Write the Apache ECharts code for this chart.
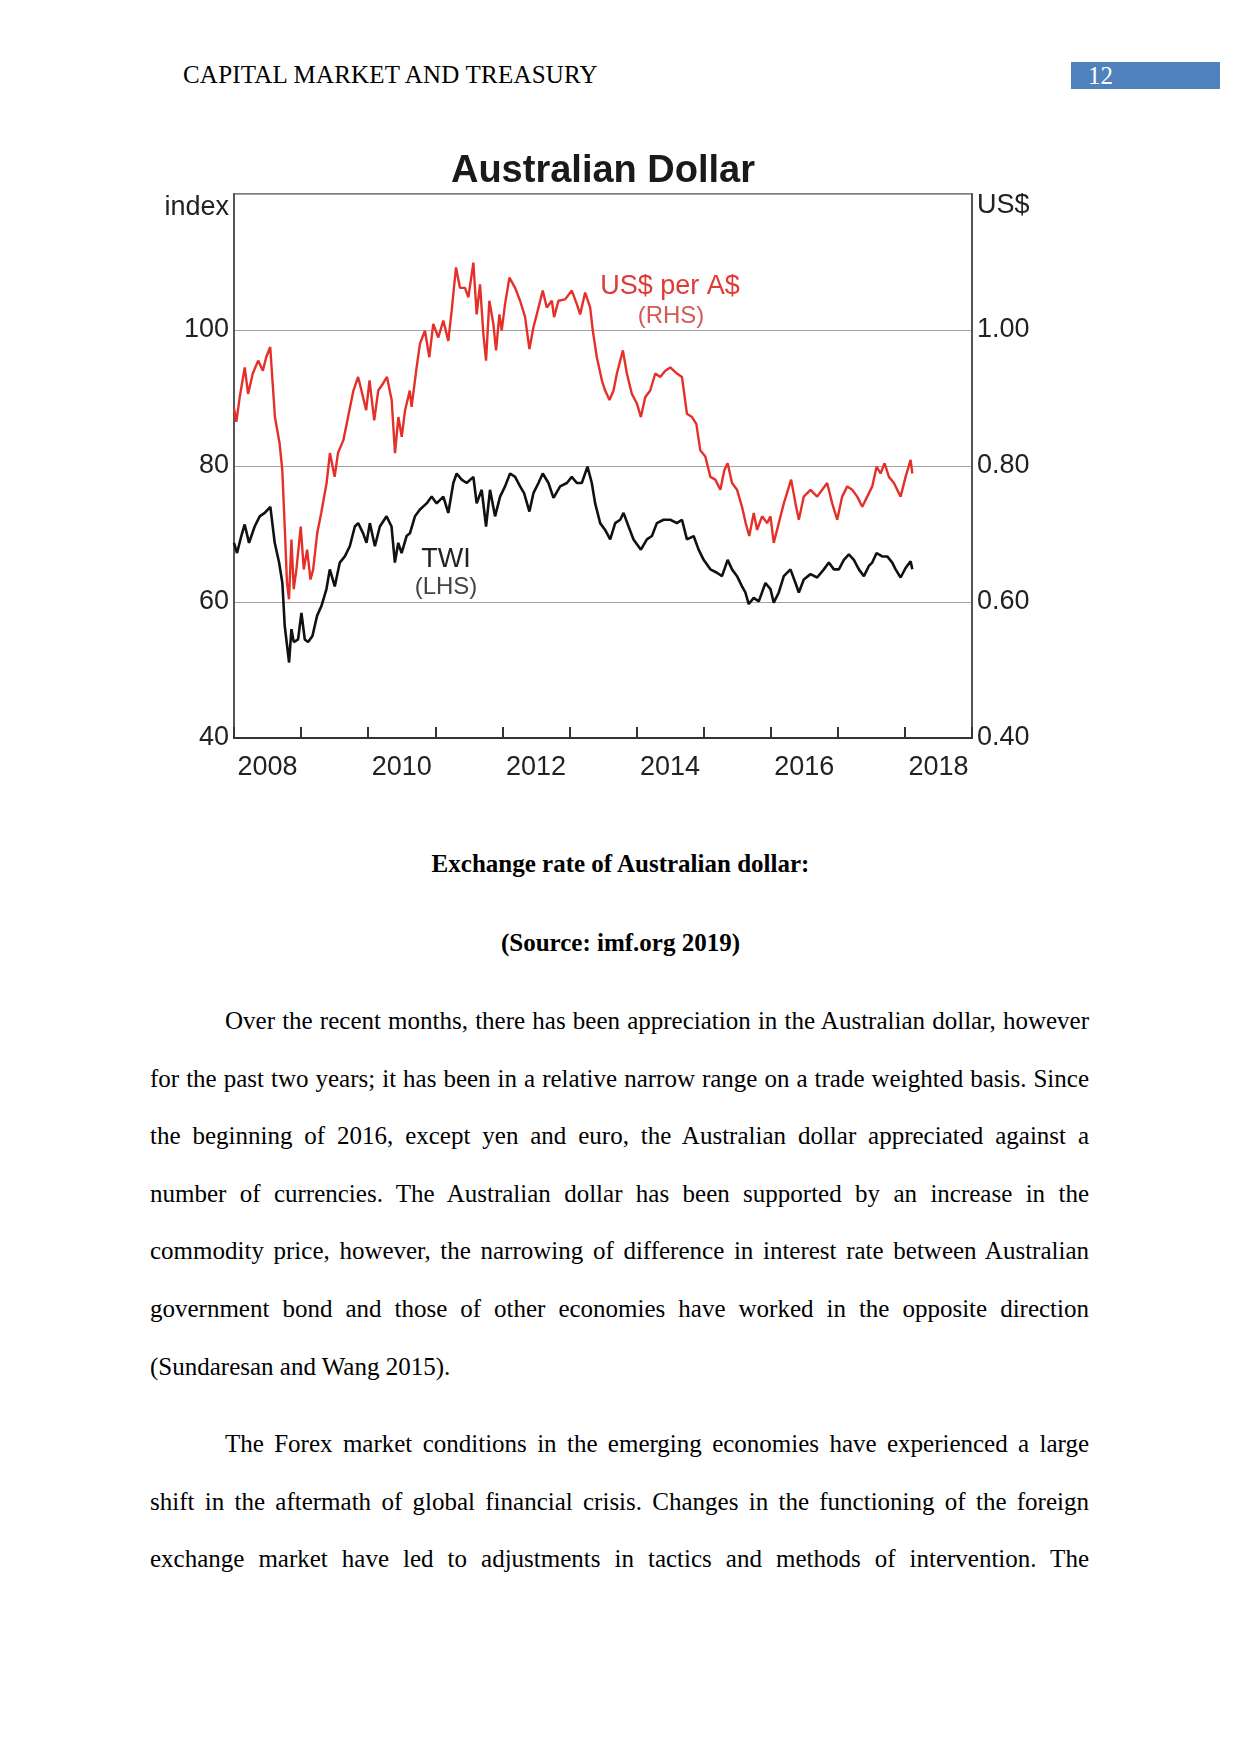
<!DOCTYPE html>
<html>
<head>
<meta charset="utf-8">
<title>Australian Dollar</title>
<script src="https://cdn.jsdelivr.net/npm/echarts@6.0.0/dist/echarts.min.js"></script>
<style>
  body { margin: 0; background: #fff; }
  .page { position: relative; width: 1241px; height: 1754px; overflow: hidden; font-family: "Liberation Serif", "Times New Roman", serif; color: #000; }
  #myChart { position: absolute; left: 0; top: 0; width: 1241px; height: 800px; }
  .header { position: absolute; left: 183px; top: 60px; font-size: 25px; line-height: 30px; letter-spacing: 0.2px; }
  .pagebox { position: absolute; left: 1071px; top: 62px; width: 149px; height: 27px; background: #4f81bd; color: #fff; font-size: 25px; line-height: 27px; }
  .pagebox span { position: absolute; left: 17px; }
  .caption { position: absolute; left: 0; width: 1241px; text-align: center; font-weight: bold; font-size: 25px; line-height: 30px; }
  .para { position: absolute; left: 150px; width: 939px; font-size: 25px; }
  .para div { height: 57.6px; line-height: 57.6px; text-align: justify; text-align-last: justify; }
  .para div.first { padding-left: 75px; }
  .para div.last { text-align-last: left; }
</style>
</head>
<body>
<div class="page">
  <div class="header">CAPITAL MARKET AND TREASURY</div>
  <div class="pagebox"><span>12</span></div>

  <div id="myChart"></div>

  <div class="caption" style="top:849px">Exchange rate of Australian dollar:</div>
  <div class="caption" style="top:928px">(Source: imf.org 2019)</div>

  <div class="para" style="top:992px">
    <div class="first">Over the recent months, there has been appreciation in the Australian dollar, however</div>
    <div>for the past two years; it has been in a relative narrow range on a trade weighted basis. Since</div>
    <div>the beginning of 2016, except yen and euro, the Australian dollar appreciated against a</div>
    <div>number of currencies. The Australian dollar has been supported by an increase in the</div>
    <div>commodity price, however, the narrowing of difference in interest rate between Australian</div>
    <div>government bond and those of other economies have worked in the opposite direction</div>
    <div class="last">(Sundaresan and Wang 2015).</div>
  </div>
  <div class="para" style="top:1415px">
    <div class="first">The Forex market conditions in the emerging economies have experienced a large</div>
    <div>shift in the aftermath of global financial crisis. Changes in the functioning of the foreign</div>
    <div>exchange market have led to adjustments in tactics and methods of intervention. The</div>
  </div>
</div>

<script>
// years shown under the axis (labels on every second one)
var yearLabels = ['2008', '2009', '2010', '2011', '2012', '2013', '2014', '2015', '2016', '2017', '2018'];
var indexTicks = [40, 60, 80, 100, 120];
var usdTicks = [0.4, 0.6, 0.8, 1.0, 1.2];

// US$ per A$ (RHS), dates as decimal years
var usdDates = [
  2008.00, 2008.035, 2008.085, 2008.16, 2008.21, 2008.28, 2008.36, 2008.43, 2008.48, 2008.54,
  2008.61, 2008.68, 2008.72, 2008.76, 2008.79, 2008.82, 2008.856, 2008.89, 2008.93, 2008.995,
  2009.04, 2009.09, 2009.14, 2009.18, 2009.24, 2009.30, 2009.38, 2009.43, 2009.50, 2009.55,
  2009.63, 2009.70, 2009.78, 2009.85, 2009.90, 2009.97, 2010.02, 2010.09, 2010.15, 2010.22,
  2010.28, 2010.35, 2010.40, 2010.45, 2010.50, 2010.55, 2010.62, 2010.647, 2010.722, 2010.772,
  2010.846, 2010.911, 2010.97, 2011.045, 2011.12, 2011.194, 2011.244, 2011.309, 2011.368, 2011.443,
  2011.493, 2011.568, 2011.617, 2011.667, 2011.717, 2011.757, 2011.806, 2011.866, 2011.906, 2011.956,
  2011.99, 2012.04, 2012.105, 2012.19, 2012.264, 2012.339, 2012.403, 2012.463, 2012.513, 2012.602,
  2012.662, 2012.737, 2012.771, 2012.836, 2012.936, 2013.035, 2013.11, 2013.159, 2013.234, 2013.309,
  2013.348, 2013.408, 2013.483, 2013.532, 2013.597, 2013.657, 2013.707, 2013.796, 2013.856, 2013.93,
  2014.005, 2014.065, 2014.129, 2014.204, 2014.279, 2014.353, 2014.428, 2014.503, 2014.602, 2014.677,
  2014.751, 2014.826, 2014.891, 2014.95, 2015.025, 2015.10, 2015.174, 2015.249, 2015.309, 2015.358,
  2015.423, 2015.498, 2015.572, 2015.627, 2015.68, 2015.747, 2015.797, 2015.871, 2015.946, 2015.996,
  2016.045, 2016.12, 2016.195, 2016.304, 2016.369, 2016.419, 2016.493, 2016.593, 2016.692, 2016.767,
  2016.841, 2016.916, 2016.991, 2017.065, 2017.14, 2017.215, 2017.289, 2017.364, 2017.439, 2017.513,
  2017.578, 2017.637, 2017.697, 2017.762, 2017.836, 2017.936, 2018.01, 2018.085, 2018.11
];
var usdValues = [
  0.885, 0.865, 0.901, 0.945, 0.906, 0.936, 0.955, 0.940, 0.960, 0.975,
  0.872, 0.833, 0.794, 0.701, 0.628, 0.604, 0.692, 0.619, 0.648, 0.711,
  0.648, 0.677, 0.633, 0.648, 0.701, 0.731, 0.775, 0.819, 0.784, 0.819,
  0.838, 0.872, 0.911, 0.931, 0.911, 0.882, 0.926, 0.867, 0.911, 0.921,
  0.931, 0.897, 0.819, 0.872, 0.843, 0.882, 0.911, 0.887, 0.945, 0.980,
  0.999, 0.960, 1.009, 0.989, 1.014, 0.984, 1.028, 1.092, 1.062, 1.062,
  1.048, 1.099, 1.023, 1.067, 0.994, 0.955, 1.043, 1.009, 0.970, 1.023,
  0.999, 1.038, 1.077, 1.062, 1.043, 1.019, 0.972, 1.004, 1.023, 1.058,
  1.033, 1.043, 1.019, 1.043, 1.045, 1.058, 1.038, 1.023, 1.055, 1.033,
  0.999, 0.960, 0.926, 0.911, 0.897, 0.911, 0.936, 0.970, 0.936, 0.906,
  0.892, 0.872, 0.901, 0.911, 0.936, 0.931, 0.940, 0.945, 0.936, 0.931,
  0.877, 0.872, 0.862, 0.823, 0.814, 0.784, 0.780, 0.765, 0.794, 0.804,
  0.775, 0.765, 0.740, 0.716, 0.697, 0.731, 0.706, 0.726, 0.716, 0.726,
  0.687, 0.716, 0.745, 0.780, 0.745, 0.721, 0.755, 0.765, 0.755, 0.765,
  0.775, 0.745, 0.721, 0.755, 0.770, 0.765, 0.755, 0.740, 0.755, 0.770,
  0.799, 0.789, 0.804, 0.784, 0.775, 0.755, 0.784, 0.809, 0.789
];

// Trade-weighted index (LHS)
var twiDates = [
  2008.00, 2008.045, 2008.109, 2008.159, 2008.224, 2008.308, 2008.383, 2008.458, 2008.542, 2008.607,
  2008.672, 2008.721, 2008.756, 2008.791, 2008.821, 2008.856, 2008.891, 2008.955, 2009.005, 2009.055,
  2009.104, 2009.169, 2009.239, 2009.303, 2009.378, 2009.428, 2009.502, 2009.577, 2009.652, 2009.726,
  2009.801, 2009.851, 2009.925, 2009.975, 2010.025, 2010.10, 2010.174, 2010.274, 2010.348, 2010.398,
  2010.448, 2010.498, 2010.572, 2010.622, 2010.697, 2010.772, 2010.871, 2010.946, 2011.02, 2011.12,
  2011.194, 2011.269, 2011.319, 2011.393, 2011.468, 2011.568, 2011.617, 2011.692, 2011.757, 2011.816,
  2011.891, 2011.966, 2012.04, 2012.115, 2012.19, 2012.264, 2012.324, 2012.403, 2012.463, 2012.538,
  2012.602, 2012.687, 2012.762, 2012.861, 2012.961, 2013.035, 2013.11, 2013.184, 2013.269, 2013.333,
  2013.383, 2013.458, 2013.532, 2013.607, 2013.682, 2013.756, 2013.806, 2013.881, 2013.955, 2014.065,
  2014.154, 2014.229, 2014.303, 2014.403, 2014.503, 2014.602, 2014.677, 2014.751, 2014.851, 2014.925,
  2015.00, 2015.10, 2015.199, 2015.274, 2015.358, 2015.423, 2015.498, 2015.572, 2015.622, 2015.672,
  2015.747, 2015.822, 2015.921, 2015.996, 2016.045, 2016.12, 2016.195, 2016.294, 2016.369, 2016.419,
  2016.493, 2016.593, 2016.692, 2016.792, 2016.866, 2016.941, 2017.016, 2017.09, 2017.165, 2017.239,
  2017.314, 2017.389, 2017.463, 2017.513, 2017.578, 2017.662, 2017.737, 2017.811, 2017.861, 2017.936,
  2018.01, 2018.085, 2018.11
];
var twiValues = [
  68.7, 67.2, 69.7, 71.4, 68.7, 71.1, 72.6, 73.1, 74.0, 68.7,
  65.8, 62.8, 56.5, 53.6, 51.1, 56.0, 54.1, 54.5, 58.4, 54.5,
  54.1, 55.0, 58.0, 59.4, 61.9, 64.8, 62.3, 65.8, 66.7, 68.2,
  71.1, 71.6, 70.1, 68.7, 71.6, 68.2, 71.1, 72.6, 71.1, 65.8,
  68.7, 67.2, 69.7, 70.1, 72.6, 73.6, 74.5, 75.5, 74.5, 75.5,
  73.1, 77.5, 78.9, 78.0, 77.5, 78.4, 74.5, 76.5, 71.1, 76.5,
  72.6, 75.5, 77.0, 78.9, 78.4, 77.0, 76.0, 73.3, 76.0, 77.5,
  78.9, 77.5, 75.3, 77.0, 77.5, 78.4, 77.5, 77.5, 79.9, 77.5,
  74.5, 71.6, 70.6, 69.2, 71.6, 72.1, 73.1, 71.1, 69.2, 67.7,
  69.2, 69.7, 71.6, 72.1, 72.1, 71.6, 72.1, 69.2, 69.7, 67.7,
  66.2, 64.8, 64.3, 63.8, 66.2, 64.8, 63.8, 62.3, 61.4, 59.7,
  60.6, 60.1, 62.8, 61.9, 59.9, 61.4, 63.8, 64.8, 62.8, 61.4,
  63.3, 64.1, 63.6, 64.8, 65.8, 64.8, 64.8, 66.2, 67.0, 66.2,
  64.8, 63.8, 65.3, 65.8, 67.2, 66.7, 66.7, 65.8, 64.8, 63.6,
  65.0, 66.0, 64.8
];

function pairs(xs, ys) {
  return xs.map(function (x, i) { return [x, ys[i]]; });
}

var sans = '"Liberation Sans", Arial, sans-serif';

function drawLine() {
  var myChart = echarts.init(document.getElementById('myChart'));
  myChart.setOption({
    animation: false,
    backgroundColor: 'transparent',
    textStyle: { fontFamily: sans },
    grid: {
      left: 234, top: 194, width: 738, height: 544,
      show: true, borderColor: '#555', borderWidth: 1.5
    },
    graphic: [
      { type: 'text', x: 603, y: 172, style: { text: 'Australian Dollar', font: 'bold 38px ' + sans, fill: '#1a1a1a', textAlign: 'center', textVerticalAlign: 'middle' } },
      { type: 'text', x: 229, y: 208, style: { text: 'index', font: '27px ' + sans, fill: '#222', textAlign: 'right', textVerticalAlign: 'middle' } },
      { type: 'text', x: 977, y: 206, style: { text: 'US$', font: '27px ' + sans, fill: '#222', textAlign: 'left', textVerticalAlign: 'middle' } },
      { type: 'text', x: 670, y: 287, style: { text: 'US$ per A$', font: '27px ' + sans, fill: '#df3a33', textAlign: 'center', textVerticalAlign: 'middle' } },
      { type: 'text', x: 671, y: 316, style: { text: '(RHS)', font: '24px ' + sans, fill: '#d35a55', textAlign: 'center', textVerticalAlign: 'middle' } },
      { type: 'text', x: 446, y: 560, style: { text: 'TWI', font: '27px ' + sans, fill: '#222', textAlign: 'center', textVerticalAlign: 'middle' } },
      { type: 'text', x: 446, y: 587, style: { text: '(LHS)', font: '24px ' + sans, fill: '#444', textAlign: 'center', textVerticalAlign: 'middle' } }
    ],
    xAxis: [
      {
        // value axis that places the data and draws the inward year ticks
        type: 'value', min: 2008, max: 2019, interval: 1,
        axisLine: { show: false },
        axisLabel: { show: false },
        axisTick: { show: true, inside: true, length: 11, lineStyle: { color: '#333', width: 2 } },
        splitLine: { show: false }
      },
      {
        // year bands: labels mid-year
        type: 'category', data: yearLabels, position: 'bottom', boundaryGap: true,
        axisLine: { lineStyle: { color: '#333', width: 2 } },
        axisTick: { show: false },
        axisLabel: { interval: 1, fontSize: 27, color: '#222', margin: 16, fontFamily: sans },
        splitLine: { show: false }
      }
    ],
    yAxis: [
      {
        type: 'value', min: indexTicks[0], max: indexTicks[indexTicks.length - 1], interval: 20,
        axisLine: { show: true, lineStyle: { color: '#555', width: 2 } },
        axisTick: { show: false },
        axisLabel: {
          fontSize: 27, color: '#222', margin: 5, fontFamily: sans,
          formatter: function (v) { return v === 120 ? '' : String(v); }
        },
        splitLine: { lineStyle: { color: '#a3a3a3', width: 1.2 } }
      },
      {
        type: 'value', min: usdTicks[0], max: usdTicks[usdTicks.length - 1], interval: 0.2,
        position: 'right',
        axisLine: { show: true, lineStyle: { color: '#555', width: 2 } },
        axisTick: { show: false },
        axisLabel: {
          fontSize: 27, color: '#222', margin: 5, fontFamily: sans,
          formatter: function (v) { return Math.abs(v - 1.2) < 1e-6 ? '' : v.toFixed(2); }
        },
        splitLine: { show: false }
      }
    ],
    series: [
      {
        name: 'TWI', type: 'line', xAxisIndex: 0, yAxisIndex: 0,
        data: pairs(twiDates, twiValues),
        showSymbol: false, smooth: false,
        lineStyle: { color: '#111', width: 2.6 }
      },
      {
        name: 'US$ per A$', type: 'line', xAxisIndex: 0, yAxisIndex: 1,
        data: pairs(usdDates, usdValues),
        showSymbol: false, smooth: false,
        lineStyle: { color: '#e5302a', width: 2.4 }
      }
    ]
  });
}

drawLine();
</script>
</body>
</html>
